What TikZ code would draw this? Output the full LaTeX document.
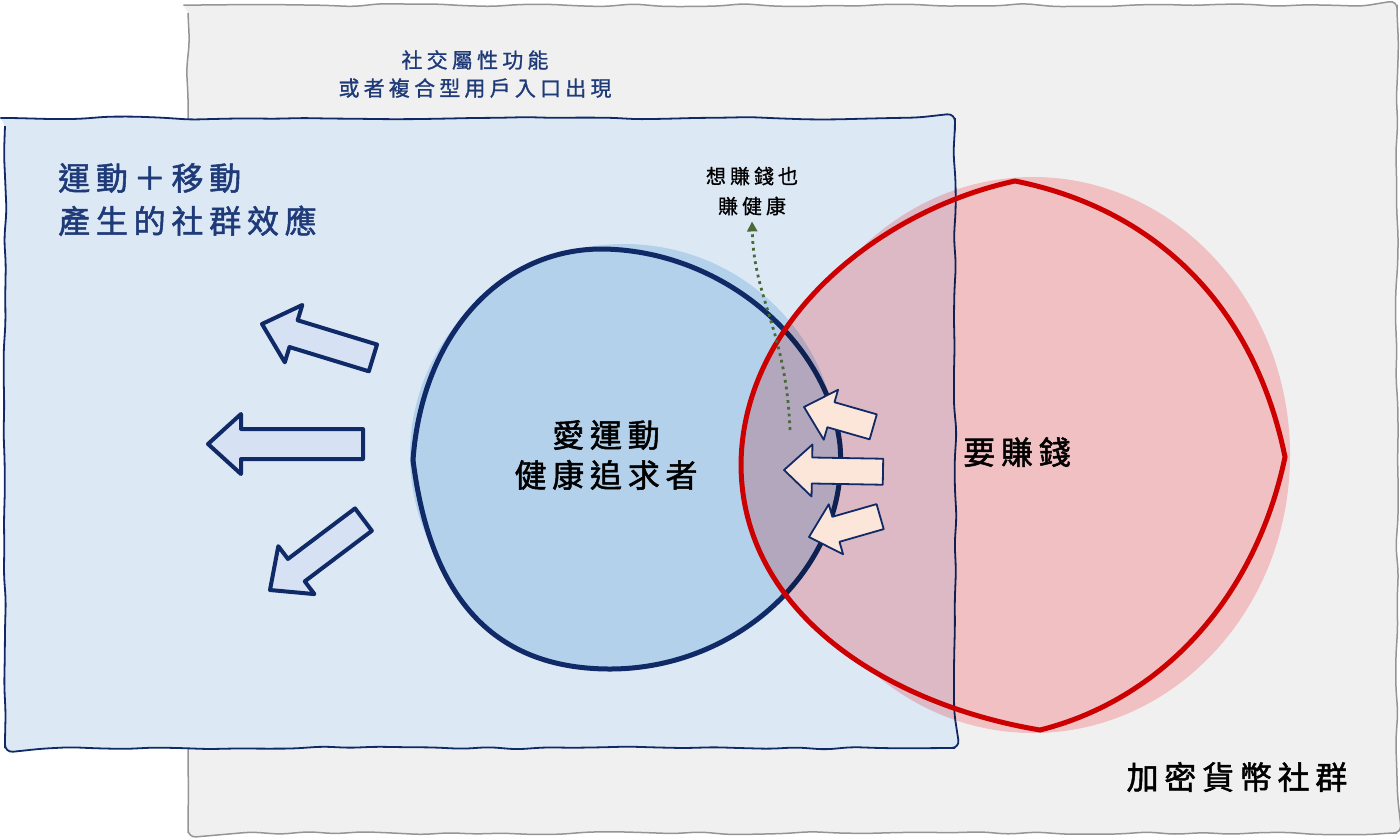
\documentclass[tikz,border=0pt]{standalone}
\usepackage{fontspec}
\usetikzlibrary{decorations.pathmorphing,arrows.meta}
\newfontfamily\cjk[LetterSpace=18,FakeBold=1.6]{Noto Sans CJK TC}
\newfontfamily\cjksmall[LetterSpace=20,FakeBold=1.0]{Noto Sans CJK TC}
\definecolor{graybg}{HTML}{F0F0F0}
\definecolor{grayline}{HTML}{959595}
\definecolor{boxblue}{HTML}{DDE8F5}
\definecolor{navy}{HTML}{0F2A66}
\definecolor{circblue}{HTML}{B3D1EA}
\definecolor{redline}{HTML}{CC0000}
\definecolor{redfill}{RGB}{255,204,207}
\definecolor{arrowblue}{HTML}{D6E1F3}
\definecolor{peach}{HTML}{FBE6D9}
\definecolor{dotgreen}{HTML}{4A6A3A}
\definecolor{textnavy}{HTML}{1E3A78}
\newcommand\blockarr[8]{%
  \begin{scope}[shift={(#1,#2)},rotate=#3]
    \draw[#8] (0,0) -- (#7,-#6) -- (#7,-#5) -- (#4,-#5) -- (#4,#5) -- (#7,#5) -- (#7,#6) -- cycle;
  \end{scope}}
\tikzset{
  wobbly/.style={decorate,decoration={random steps,segment length=28pt,amplitude=1.6pt},rounded corners=8pt},
  graybox/.style={wobbly,fill=graybg,draw=grayline,line width=1.5pt},
  bluebox/.style={wobbly,fill=boxblue,draw=navy,line width=1.8pt},
  outarrow/.style={fill=arrowblue,draw=navy,line width=4pt,line join=round},
  inarrow/.style={fill=peach,draw=navy,line width=1.8pt,line join=round},
  toptext/.style={font=\cjksmall\fontsize{21}{28}\selectfont,text=textnavy,align=center,inner sep=0pt},
  headtext/.style={font=\cjk\fontsize{32}{43}\selectfont,text=textnavy,align=left,inner sep=0pt},
  bigtext/.style={font=\cjk\fontsize{32}{40}\selectfont,text=black,align=center,inner sep=0pt},
  smalltext/.style={font=\cjksmall\fontsize{20}{30}\selectfont,text=black,align=center,inner sep=0pt},
  hint/.style={draw=dotgreen,line width=2.8pt,dash pattern=on 2.8pt off 4pt,-{Triangle[length=10pt,width=10pt]}},
}
\begin{document}
\begin{tikzpicture}[x=1pt,y=-1pt]
\useasboundingbox (0,0) rectangle (1400,839);
% outer grey area
\path[graybox] (188,5) rectangle (1397,833);
% blue box
\path[bluebox] (5,118) rectangle (955,748);
% texts on boxes
\node[toptext] (social) at (475,74) {社交屬性功能\\或者複合型用戶入口出現};
\node[headtext,anchor=north west] (effect) at (58,163) {運動＋移動\\產生的社群效應};
% blue circle
\fill[circblue] (624,455) ellipse (214 and 211);
\draw[navy,line width=5pt,fill=circblue]
  (413,460) .. controls (422,335) and (500,250) .. (600,249)
  .. controls (720,249) and (828,340) .. (840,445)
  .. controls (850,565) and (740,669) .. (610,669)
  .. controls (480,669) and (428,580) .. cycle;
% red halo (multiplied transparency group) and outline
\begin{scope}[blend mode=multiply]
\begin{scope}[transparency group]
\fill[redfill] (1033,455) ellipse (257 and 278);
\fill[redfill]
  (1015,181) .. controls (880,210) and (742,320) .. (741,465)
  .. controls (742,615) and (890,705) .. (1040,730)
  .. controls (1160,700) and (1255,600) .. (1285,457)
  .. controls (1255,310) and (1160,210) .. cycle;
\end{scope}
\end{scope}
\draw[redline,line width=5pt,line join=miter]
  (1015,181) .. controls (880,210) and (742,320) .. (741,465)
  .. controls (742,615) and (890,705) .. (1040,730)
  .. controls (1160,700) and (1255,600) .. (1285,457)
  .. controls (1255,310) and (1160,210) .. cycle;
% texts
\node[bigtext] (lover) at (606,455) {愛運動\\健康追求者};
\node[bigtext] (money) at (1017,452) {要賺錢};
\node[bigtext] (crypto) at (1237,777) {加密貨幣社群};
\node[smalltext] (both) at (752,191) {想賺錢也\\賺健康};
% hint connector
\coordinate (hstart) at (790,430);
\draw[hint] (hstart) .. controls (786,330) and (754,300) .. ([yshift=-6pt]both.south);
% outward arrows
\blockarr{262}{324}{-17}{116}{14}{30}{33}{outarrow}
\blockarr{208}{444}{0}{155}{15}{30}{33}{outarrow}
\blockarr{270}{590}{37}{117}{14}{30}{33}{outarrow}
% inward arrows
\blockarr{804}{407}{-16}{72}{13}{26}{28}{inarrow}
\blockarr{784}{470}{-1}{99}{13}{26}{28}{inarrow}
\blockarr{809}{537}{16}{74}{13}{26}{28}{inarrow}
\end{tikzpicture}
\end{document}
